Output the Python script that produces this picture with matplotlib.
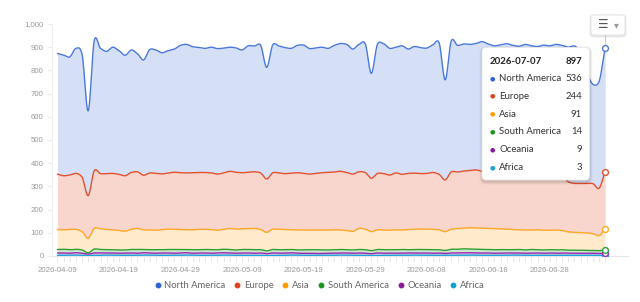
import numpy as np
import pandas as pd
import matplotlib
matplotlib.use("Agg")
import matplotlib.pyplot as plt
import matplotlib.dates as mdates
from matplotlib.patches import FancyBboxPatch
from matplotlib.lines import Line2D
from matplotlib.transforms import IdentityTransform

# ---------------- data ----------------
dates = pd.date_range("2026-04-09", periods=90, freq="D")
series_names = ["North America", "Europe", "Asia", "South America", "Oceania", "Africa"]

north_america = [520, 520, 509, 539, 530, 365, 562, 540, 527, 544,
                 533, 519, 528, 509, 497, 532, 532, 522, 527, 531,
                 549, 554, 543, 539, 535, 542, 541, 538, 535, 536,
                 529, 545, 542, 551, 481, 552, 547, 543, 538, 549,
                 553, 541, 541, 541, 535, 546, 551, 552, 539, 549,
                 556, 452, 557, 560, 546, 542, 554, 536, 546, 543,
                 540, 550, 568, 431, 565, 546, 548, 544, 545, 559,
                 552, 546, 549, 556, 548, 546, 553, 549, 543, 551,
                 547, 552, 563, 580, 592, 565, 477, 428, 460, 536]
europe = [240, 233, 235, 241, 235, 184, 248, 238, 240, 243,
          242, 239, 245, 244, 235, 246, 245, 240, 242, 246,
          245, 245, 246, 245, 245, 244, 242, 243, 246, 245,
          242, 243, 244, 244, 230, 243, 243, 241, 244, 247,
          244, 241, 244, 247, 248, 249, 253, 250, 247, 244,
          244, 230, 243, 243, 238, 245, 240, 242, 241, 239,
          240, 245, 239, 223, 247, 244, 246, 246, 250, 245,
          243, 242, 244, 243, 246, 245, 247, 245, 247, 247,
          248, 248, 235, 216, 211, 212, 213, 216, 204, 244]
asia = [85, 84, 87, 86, 79, 62, 90, 89, 87, 86,
        84, 81, 87, 91, 85, 85, 84, 87, 88, 87,
        86, 85, 86, 88, 87, 87, 84, 86, 91, 90,
        89, 90, 92, 87, 80, 88, 88, 86, 85, 86,
        85, 85, 85, 86, 86, 86, 84, 83, 80, 91,
        89, 82, 85, 85, 84, 86, 84, 87, 88, 88,
        88, 88, 86, 81, 87, 89, 89, 92, 92, 92,
        91, 91, 89, 89, 86, 85, 86, 84, 86, 85,
        84, 86, 83, 79, 77, 76, 76, 72, 65, 91]
south_america = [15, 16, 15, 15, 14, 6, 17, 15, 15, 14,
                 14, 13, 15, 16, 14, 14, 15, 14, 15, 16,
                 15, 14, 15, 14, 15, 15, 14, 15, 15, 14,
                 15, 15, 15, 14, 12, 15, 15, 15, 14, 14,
                 15, 15, 16, 15, 14, 15, 15, 14, 14, 15,
                 15, 13, 15, 15, 14, 15, 15, 14, 15, 15,
                 15, 15, 14, 13, 16, 16, 17, 16, 16, 15,
                 15, 15, 15, 14, 15, 15, 14, 15, 14, 14,
                 14, 14, 14, 13, 13, 13, 12, 12, 12, 14]
oceania = [10, 10, 9, 10, 9, 6, 10, 10, 9, 10,
           9, 10, 10, 9, 10, 10, 9, 10, 10, 9,
           10, 10, 9, 10, 10, 9, 10, 10, 10, 9,
           10, 10, 9, 10, 8, 10, 9, 10, 10, 9,
           9, 9, 8, 8, 9, 9, 9, 10, 9, 10,
           9, 8, 10, 9, 10, 9, 10, 10, 9, 10,
           10, 9, 10, 8, 10, 10, 11, 10, 10, 10,
           10, 9, 10, 10, 9, 10, 9, 10, 10, 9,
           10, 9, 10, 9, 9, 9, 9, 9, 8, 9]
africa = [3, 3, 3, 4, 3, 2, 3, 3, 4, 3,
          3, 3, 3, 3, 4, 3, 3, 3, 3, 3,
          3, 4, 3, 3, 3, 3, 3, 4, 3, 3,
          3, 3, 3, 3, 2, 3, 3, 3, 4, 3,
          3, 3, 3, 3, 3, 3, 4, 3, 3, 3,
          3, 2, 3, 3, 3, 3, 3, 3, 4, 3,
          3, 3, 3, 3, 3, 3, 3, 4, 3, 3,
          3, 3, 3, 3, 4, 3, 3, 3, 3, 3,
          3, 3, 3, 3, 3, 3, 3, 3, 3, 3]

y_ticks = [0, 100, 200, 300, 400, 500, 600, 700, 800, 900, 1000]
x_tick_labels = ["2026-04-09", "2026-04-19", "2026-04-29", "2026-05-09", "2026-05-19",
                 "2026-05-29", "2026-06-08", "2026-06-18", "2026-06-28"]

line_colors = ["#4a78dc", "#e4512b", "#ffa726", "#2e9e34", "#9c27b0", "#1aa3d6"]
dot_colors = ["#2f62d2", "#e3401c", "#ff9a00", "#1a961a", "#8b1a9b", "#149fd3"]

# ---------------- helpers ----------------
W, H = 640, 302


def smooth(x, y, n=12):
    x = np.asarray(x, float)
    y = np.asarray(y, float)
    m = np.zeros_like(y)
    m[1:-1] = (y[2:] - y[:-2]) / (x[2:] - x[:-2])
    m[0] = (y[1] - y[0]) / (x[1] - x[0])
    m[-1] = (y[-1] - y[-2]) / (x[-1] - x[-2])
    m *= 0.8
    xs, ys = [], []
    for i in range(len(x) - 1):
        h = x[i + 1] - x[i]
        t = np.linspace(0, 1, n, endpoint=False)
        h00 = 2 * t**3 - 3 * t**2 + 1
        h10 = t**3 - 2 * t**2 + t
        h01 = -2 * t**3 + 3 * t**2
        h11 = t**3 - t**2
        xs.append(x[i] + t * h)
        ys.append(h00 * y[i] + h10 * h * m[i] + h01 * y[i + 1] + h11 * h * m[i + 1])
    xs.append([x[-1]])
    ys.append([y[-1]])
    return np.concatenate(xs), np.concatenate(ys)


def fx(px):
    return px / W


def fy(py):
    return 1 - py / H


# ---------------- figure ----------------
fig = plt.figure(figsize=(6.4, 3.02), dpi=100)
ax = fig.add_axes([52 / W, 46 / H, 576 / W, 232 / H])

xn = mdates.date2num(dates)
values = [north_america, europe, asia, south_america, oceania, africa]
# stack from bottom (Africa) upward
order = list(range(len(values)))[::-1]
bottom = np.zeros(len(xn))
tops = {}
for i in order:
    top = bottom + np.asarray(values[i], float)
    sx, sb = smooth(xn, bottom)
    _, st = smooth(xn, top)
    ax.fill_between(sx, sb, st, color=line_colors[i], alpha=0.23, lw=0, zorder=1)
    tops[i] = (sx, st, top)
    bottom = top

# hover line above the top curve
ax.vlines(xn[-1], tops[0][2][-1], 1000, color="#cccccc", lw=0.8, zorder=2)

for i in order:
    sx, st, top = tops[i]
    ax.plot(sx, st, color=line_colors[i], lw=1.0, zorder=3, solid_capstyle="round")
    ax.plot(xn[-1], top[-1], "o", ms=4.2, mfc="white", mec=line_colors[i], mew=1.0, zorder=4)

ax.set_ylim(0, 1000)
x0 = xn[0]
ax.set_xlim(x0 - 0.88, x0 + 92.7)
ax.set_yticks(y_ticks)
ax.set_yticklabels([f"{v:,}" for v in y_ticks])
ax.set_xticks([mdates.date2num(pd.Timestamp(s)) for s in x_tick_labels])
ax.set_xticklabels(x_tick_labels)
ax.set_xticks(xn, minor=True)

for s in ["top", "right"]:
    ax.spines[s].set_visible(False)
ax.spines["left"].set_color("#f0f0f0")
ax.spines["bottom"].set_color("#e6e6e6")
ax.spines["left"].set_linewidth(0.8)
ax.spines["bottom"].set_linewidth(0.8)
tick_font = {"family": "Liberation Sans", "size": 5.6}
for lab in ax.get_xticklabels() + ax.get_yticklabels():
    lab.set_fontfamily("Liberation Sans")
    lab.set_fontsize(5.6)
    lab.set_color("#9a9a9a")
ax.tick_params(axis="both", which="both", color="#e6e6e6", width=0.6)
ax.tick_params(axis="x", which="major", length=4, pad=4)
ax.tick_params(axis="x", which="minor", length=4)
ax.tick_params(axis="y", length=3, pad=3)

# ---------------- legend ----------------
handles = [Line2D([], [], marker="o", ls="", color=c, markersize=3.2) for c in dot_colors]
leg = fig.legend(handles, series_names, loc="center", bbox_to_anchor=(fx(320), fy(286)),
                 ncol=6, frameon=False, handlelength=0.5, handletextpad=0.45,
                 columnspacing=1.0, prop={"family": "Lato", "size": 6.8})
for t in leg.get_texts():
    t.set_color("#666666")

# ---------------- tooltip ----------------
tr = IdentityTransform()


def box(x0p, y0p, x1p, y1p, rad, fc, ec, lw=0.6, z=10, alpha=1.0):
    p = FancyBboxPatch((x0p, H - y1p), x1p - x0p, y1p - y0p,
                       boxstyle=f"round,pad=0,rounding_size={rad}",
                       transform=tr, fc=fc, ec=ec, lw=lw, zorder=z, alpha=alpha)
    fig.add_artist(p)


for k, a in [(3, 0.04), (2, 0.05), (1, 0.07)]:
    box(482 - k + 0.5, 47.5 - k + 1.5, 589.5 + k, 180 + k + 1.5, 4 + k, "#000000", "none", 0, 9, a)
box(482, 47.5, 589.5, 180, 4, "white", "#e8e8e8", 0.6, 10)

tip_font = {"family": "Lato", "size": 6.9}
fig.text(fx(490), fy(61), dates[-1].strftime("%Y-%m-%d"), ha="left", va="center",
         fontweight="bold", color="#222222", zorder=11, **tip_font)
total_last = sum(v[-1] for v in values)
fig.text(fx(582), fy(61), f"{total_last}", ha="right", va="center",
         fontweight="bold", color="#222222", zorder=11, **tip_font)
for k, name in enumerate(series_names):
    yy = 78.5 + k * 17.8
    fig.text(fx(492.5), fy(yy), "\u25CF", ha="center", va="center", color=dot_colors[k],
             zorder=11, family="DejaVu Sans", size=4.5)
    fig.text(fx(499), fy(yy), name, ha="left", va="center", color="#333333", zorder=11, **tip_font)
    fig.text(fx(582), fy(yy), f"{values[k][-1]}", ha="right", va="center", color="#333333",
             zorder=11, **tip_font)

# ---------------- toolbox button ----------------
for k, a in [(2, 0.04), (1, 0.06)]:
    box(591 - k, 15 - k + 1, 625 + k, 35 + k + 1, 3 + k, "#000000", "none", 0, 9, a)
box(591, 15, 625, 35, 3, "white", "#e2e2e2", 0.6, 10)
fig.text(fx(603), fy(25), "\u2630", ha="center", va="center", color="#555555",
         family="DejaVu Sans", size=8.5, zorder=11)
fig.text(fx(616), fy(25.5), "\u25BE", ha="center", va="center", color="#999999",
         family="DejaVu Sans", size=7, zorder=11)

fig.savefig("out.png", dpi=100, facecolor="white")
